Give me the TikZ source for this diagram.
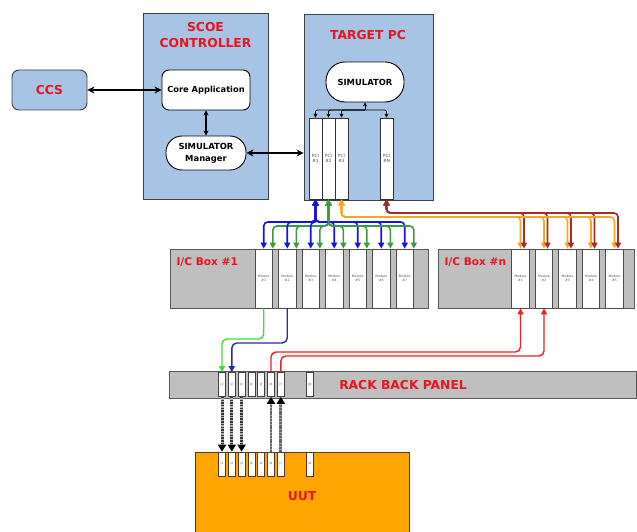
\documentclass[tikz,border=0pt]{standalone}
\usepackage{fontspec}
\setmainfont{DejaVu Sans}
\usepackage{xcolor}
\usetikzlibrary{arrows.meta}
\usetikzlibrary{calc}
\definecolor{panelblue}{HTML}{A7C4E4}
\definecolor{boxgray}{HTML}{BFBFBF}
\definecolor{uutorange}{HTML}{FFA500}
\definecolor{titlered}{HTML}{E8141E}
\definecolor{busblue}{HTML}{1212E6}
\definecolor{busgreen}{HTML}{3C9C3C}
\definecolor{busorange}{HTML}{F5A623}
\definecolor{busred}{HTML}{A52A2A}
\definecolor{linkgreen}{HTML}{3CE03C}
\definecolor{linkblue}{HTML}{2A2AA8}
\definecolor{linkred}{HTML}{F01E1E}
\tikzset{>={Stealth[length=6pt,width=6pt]}}

\begin{document}
\begin{tikzpicture}[x=1pt,y=-1pt,
		panel/.style={draw=black!75, fill=panelblue, line width=0.9pt, inner sep=0pt},
		title/.style={text=titlered, font=\bfseries\fontsize{12.3}{16}\selectfont, align=center},
		boxtitle/.style={text=titlered, font=\bfseries\fontsize{10.6}{12}\selectfont},
		whitebox/.style={draw, fill=white, line width=0.9pt, rounded corners=7pt, inner sep=0pt,
			minimum width=88pt, minimum height=40pt, font=\bfseries\fontsize{8.3}{12}\selectfont},
		pill/.style={draw, fill=white, line width=0.9pt, rounded corners=16pt, inner sep=0pt, align=center,
			minimum width=80pt, minimum height=34pt, font=\bfseries\fontsize{8.4}{12}\selectfont},
		pcislot/.style={draw=black!80, fill=white, line width=0.8pt, inner sep=0pt, align=center,
			minimum width=13pt, minimum height=81pt, text=black!70, font=\fontsize{4.4}{5.6}\selectfont},
		icbox/.style={draw=black!65, fill=boxgray, line width=0.9pt, inner sep=0pt},
		module/.style={draw=black!70, fill=white, line width=0.7pt, inner sep=0pt, align=center,
			minimum width=17.5pt, minimum height=59pt, text=black!70, font=\fontsize{3.2}{3.8}\selectfont},
		jslot/.style={draw=black!75, fill=white, line width=0.6pt, inner sep=0pt,
			minimum width=7pt, minimum height=24pt, text=black!70, font=\fontsize{2.8}{3}\selectfont},
		bigarrow/.style={line width=1.3pt, <->, >={Stealth[length=7pt,width=7pt]}},
		link/.style={line width=0.9pt, ->, >={Stealth[length=4pt,width=4pt]}},
		busline/.style={line width=1.6pt, rounded corners=4pt, <->, >={Triangle[length=6pt,width=6pt]}},
		rackline/.style={line width=1.4pt, rounded corners=5pt, ->, >={Triangle[length=6pt,width=6pt]}},
		dotdown/.style={line width=3pt, black!80, dash pattern=on 1.5pt off 1.2pt,
			preaction={draw=black!30, line width=3pt, shorten >=6pt, -},
			-{Triangle[length=7pt,width=8pt,color=black]}},
		dotup/.style={line width=2.8pt, black!60, dash pattern=on 2pt off 0.8pt,
			preaction={draw=black!35, line width=2.8pt, shorten >=6pt, -},
			-{Triangle[length=7pt,width=8pt,color=black]}}]
		\useasboundingbox (0,0) rectangle (637,532);
		%% Controller side
		\node [panel, title, rounded corners=7pt, minimum width=75pt, minimum height=40pt] (ccs) at (49.5,90) {CCS};
		\node [panel, minimum width=125pt, minimum height=186pt] (scoe) at (205.5,106) {};
		\node [title] (scoetitle) at (205.5,35) {SCOE\\CONTROLLER};
		\node [whitebox] (core) at (206,90) {Core Application};
		\node [pill] (simmgr) at (206,153) {SIMULATOR\\Manager};
		%% Target PC
		\node [panel, minimum width=129pt, minimum height=186pt] (target) at (368.5,107) {};
		\node [title] (targettitle) at (368,35) {TARGET PC};
		\node [pill, minimum width=78pt, minimum height=40pt, rounded corners=19pt] (simulator) at (365,82) {SIMULATOR};
		\foreach \n/\x in {1/315.5, 2/328.5, 3/341.5, N/386.5}
			\node [pcislot] (pci\n) at (\x,158.5) {PCI\\\#\n};
		\coordinate (simsplit) at (365,110);
		\draw [link] (simsplit) -- (simulator.south);
		\foreach \n in {1,2,3,N}
			\draw [link, rounded corners=2pt] (simsplit) -| (pci\n.north);
		\draw [bigarrow] (ccs) -- (core);
		\draw [bigarrow, >={Stealth[length=5pt,width=5pt]}] (core) -- (simmgr);
		\draw [bigarrow] (simmgr) -- (target.west |- simmgr);
		%% I/C boxes
		\node [icbox, minimum width=258pt, minimum height=59pt] (icone) at (299,278.5) {};
		\node [boxtitle, anchor=west] (iconetitle) at (173,262) {I/C Box \#1};
		\foreach \i in {1,...,7}
			\node [module] (ma\i) at ({263.75+23.5*(\i-1)},278.5) {Module\\\#\i};
		\node [icbox, minimum width=196pt, minimum height=59pt] (icn) at (536,278.5) {};
		\node [boxtitle, anchor=west] (icntitle) at (441,262) {I/C Box \#n};
		\foreach \i in {1,...,5}
			\node [module] (mb\i) at ({520.5+23.5*(\i-1)},278.5) {Module\\\#\i};
		%% PCI buses
		\coordinate (bluebus) at (0,222);
		\coordinate (greenbus) at (0,226);
		\coordinate (redbus) at (0,213);
		\coordinate (orangebus) at (0,217);
		\foreach \i in {1,...,7}{
			\draw [busline, busblue] (pci1.south) |- (bluebus -| ma\i.north) -- (ma\i.north);
			\draw [busline, busgreen] (pci2.south) |- (greenbus -| ma\i.north east) -- (ma\i.north east);
		}
		\foreach \i in {1,...,5}{
			\coordinate (rd\i) at ([xshift=3.5pt]mb\i.north);
			\draw [busline, busorange] (pci3.south) |- (orangebus -| mb\i.north) -- (mb\i.north);
			\draw [busline, busred] (pciN.south) |- (redbus -| rd\i) -- (rd\i);
		}
		%% Rack back panel
		\node [icbox, minimum width=467pt, minimum height=27pt] (rack) at (402.5,384.5) {};
		\node [title] (racktitle) at (403,385) {RACK BACK PANEL};
		\foreach \i in {1,...,7}
			\node [jslot] (rj\i) at ({222+9.8*(\i-1)},384.5) {J\i};
		\node [jslot] (rjN) at (310,384.5) {JN};
		%% UUT
		\node [draw=black!55!brown, fill=uutorange, line width=0.9pt, minimum width=214pt, minimum height=95pt] (uut) at (302,499.5) {};
		\node [title] (uuttitle) at (302,496) {UUT};
		\foreach \i in {1,...,7}
			\node [jslot, draw=black!55!brown] (uj\i) at ({222+9.8*(\i-1)},464) {J\i};
		\node [jslot, draw=black!55!brown] (ujN) at (310,464) {JN};
		%% Cabling
		\coordinate (greenturn) at (0,339);
		\coordinate (blueturn) at (0,343);
		\coordinate (redturnA) at (0,352);
		\coordinate (redturnB) at (0,356);
		\draw [rackline, linkgreen] (ma1.south) |- (greenturn -| rj1.north) -- (rj1.north);
		\draw [rackline, linkblue] (ma2.south) |- (blueturn -| rj2.north) -- (rj2.north);
		\draw [rackline, linkred] (rj6.north) |- (redturnA -| mb1.south) -- (mb1.south);
		\draw [rackline, linkred] (rj7.north) |- (redturnB -| mb2.south) -- (mb2.south);
		\foreach \i in {1,2,3}
			\draw [dotdown] (rj\i.south) -- (uj\i.north);
		\foreach \i in {6,7}
			\draw [dotup] (uj\i.north) -- (rj\i.south);
	\end{tikzpicture}
\end{document}
